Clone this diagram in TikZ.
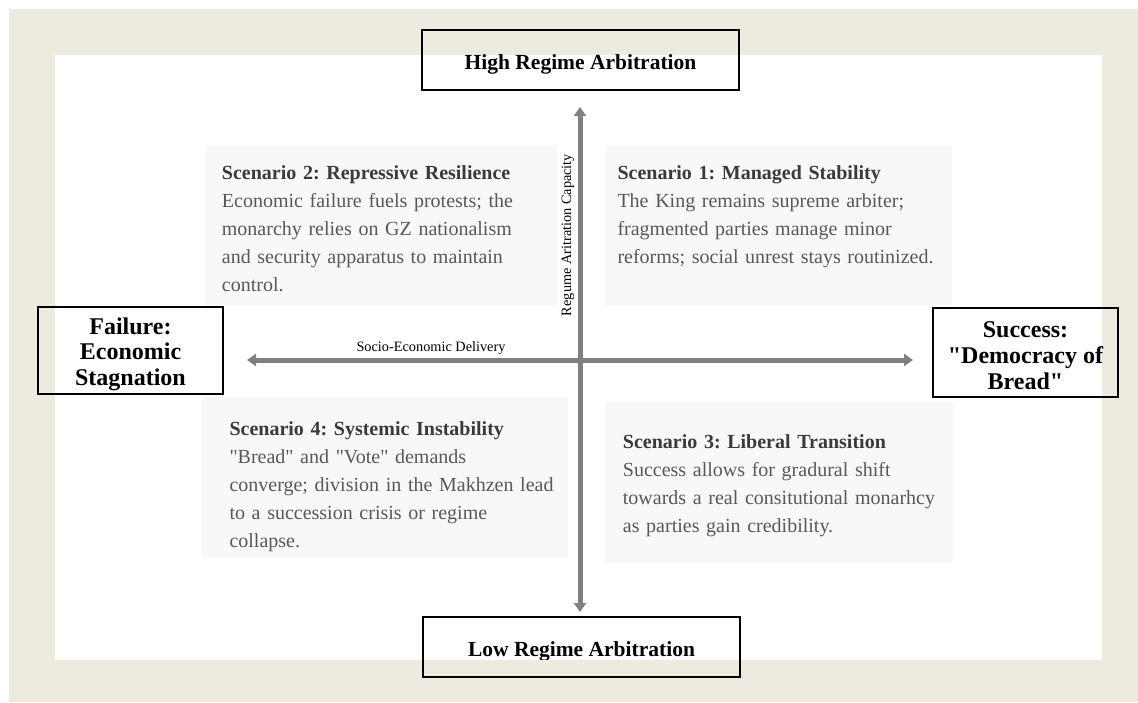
\documentclass[tikz,border=0pt]{standalone}
\usepackage{fontspec}
\setmainfont{Liberation Serif}
\usetikzlibrary{positioning,arrows.meta}

\definecolor{frameback}{RGB}{237,234,224}
\definecolor{panelgray}{RGB}{248,248,246}
\definecolor{axisgray}{RGB}{128,128,128}
\definecolor{titlegray}{RGB}{58,58,58}
\definecolor{bodygray}{RGB}{88,88,88}

\frenchspacing

\begin{document}
\begin{tikzpicture}[x=1pt, y=-1pt,
  pole/.style={rectangle, draw=black, line width=1.3pt, inner sep=0pt, outer sep=0pt, align=center},
  panel/.style={rectangle, fill=panelgray, inner sep=0pt, anchor=north west},
  scentext/.style={anchor=base west, inner sep=0pt, text width=345pt, align=left, text=bodygray,
    font=\fontsize{20}{28}\selectfont},
  axis/.style={line width=5pt, draw=axisgray, {Triangle[width=12pt,length=9pt]}-{Triangle[width=12pt,length=9pt]}},
  axislabel/.style={inner sep=0pt, font=\fontsize{14.3}{16}\selectfont}]

\useasboundingbox (0,0) rectangle (1138,702);
\fill [frameback] (8.5,9) rectangle (1138,702);
\fill [white] (55,55) rectangle (1102,660);

% scenario panels
\node [panel, minimum width=352pt, minimum height=160pt] (s2box) at (205,145) {};
\node [panel, minimum width=347pt, minimum height=160pt] (s1box) at (605,145) {};
\node [panel, minimum width=366pt, minimum height=160pt] (s4box) at (202,397) {};
\node [panel, minimum width=348pt, minimum height=161pt] (s3box) at (605,402) {};

\node [scentext] (s2) at (221.7,179.3) {\textcolor{titlegray}{\bfseries Scenario 2: Repressive Resilience}\\
  Economic failure fuels protests; the\\
  monarchy relies on GZ nationalism\\
  and security apparatus to maintain\\
  control.};
\node [scentext] (s1) at (617.3,179.3) {\textcolor{titlegray}{\bfseries Scenario 1: Managed Stability}\\
  The King remains supreme arbiter;\\
  fragmented parties manage minor\\
  reforms; social unrest stays routinized.};
\node [scentext] (s4) at (229.3,435) {\textcolor{titlegray}{\bfseries Scenario 4: Systemic Instability}\\
  \textquotedbl Bread\textquotedbl{} and \textquotedbl Vote\textquotedbl{} demands\\
  converge; division in the Makhzen lead\\
  to a succession crisis or regime\\
  collapse.};
\node [scentext] (s3) at (622.7,448.3) {\textcolor{titlegray}{\bfseries Scenario 3: Liberal Transition}\\
  Success allows for gradural shift\\
  towards a real consitutional monarhcy\\
  as parties gain credibility.};

% the four poles
\node [pole, minimum width=317pt, minimum height=60pt, text height=19pt, text depth=0pt,
  font=\fontsize{21.5}{24}\selectfont\bfseries] (high) at (580.5,60) {High Regime Arbitration};
\node [pole, minimum width=317pt, minimum height=60pt, text height=19pt, text depth=0pt,
  font=\fontsize{21.5}{24}\selectfont\bfseries] (low) at (581.5,647) {Low Regime Arbitration};
\node [pole, minimum width=185pt, minimum height=87pt, text height=75pt,
  font=\fontsize{24}{25.5}\selectfont\bfseries] (fail) at (130.5,350.5) {Failure:\\Economic\\Stagnation};
\node [pole, minimum width=185pt, minimum height=89pt, text height=74pt,
  font=\fontsize{24}{25.8}\selectfont\bfseries] (succ) at (1025.5,352.5) {Success:\\\textquotedbl Democracy of\\Bread\textquotedbl};

% lower band runs through the bottom box
\fill [frameback] (423.7,660) rectangle (739.3,676.3);

% axes
\coordinate (o) at (580,360);
\draw [axis, shorten <=5pt, shorten >=17pt] (low.north -| o) to (high.south -| o);
\draw [axis, shorten <=24pt, shorten >=20pt] (fail.east |- o) to (succ.west |- o);

\node [axislabel, rotate=90] (ylab) at (568,235) {Regume Aritration Capacity};
\node [axislabel] (xlab) at (431,348) {Socio-Economic Delivery};

\end{tikzpicture}
\end{document}
